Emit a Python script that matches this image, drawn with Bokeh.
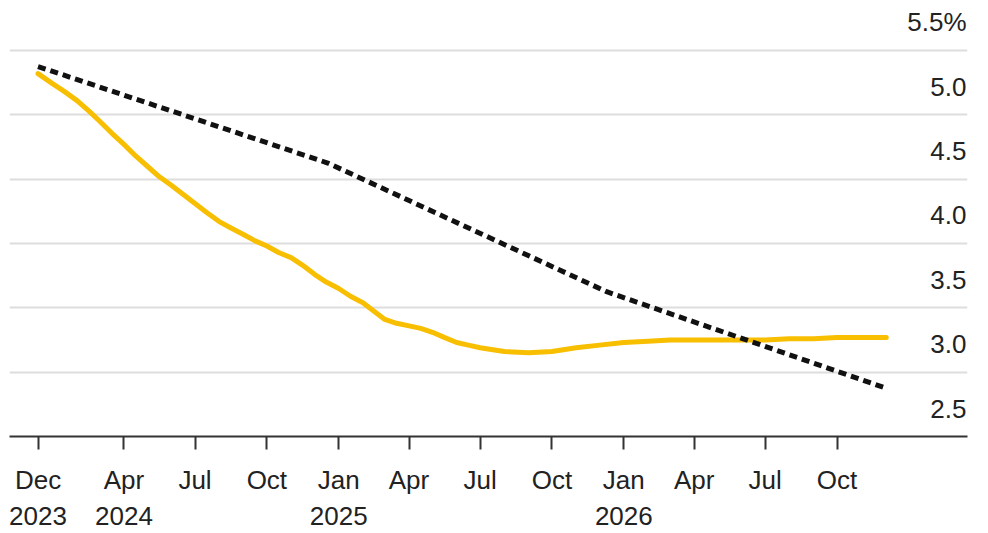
from datetime import datetime

from bokeh.core.properties import value
from bokeh.embed import file_html
from bokeh.models import ColumnDataSource, FixedTicker
from bokeh.plotting import figure
from bokeh.resources import INLINE

# Market-implied path of the policy rate (semi-monthly readings, then monthly)
market_dates = [
    datetime(2023, 12, 13),
    datetime(2024, 1, 1), datetime(2024, 1, 16), datetime(2024, 2, 1), datetime(2024, 2, 16),
    datetime(2024, 3, 1), datetime(2024, 3, 16), datetime(2024, 4, 1), datetime(2024, 4, 16),
    datetime(2024, 5, 1), datetime(2024, 5, 16), datetime(2024, 6, 1), datetime(2024, 6, 16),
    datetime(2024, 7, 1), datetime(2024, 7, 16), datetime(2024, 8, 1), datetime(2024, 8, 16),
    datetime(2024, 9, 1), datetime(2024, 9, 16), datetime(2024, 10, 1), datetime(2024, 10, 16),
    datetime(2024, 11, 1), datetime(2024, 11, 16), datetime(2024, 12, 1), datetime(2024, 12, 16),
    datetime(2025, 1, 1), datetime(2025, 1, 16), datetime(2025, 2, 1), datetime(2025, 2, 16),
    datetime(2025, 3, 1), datetime(2025, 3, 16), datetime(2025, 4, 1), datetime(2025, 4, 16),
    datetime(2025, 5, 1), datetime(2025, 5, 16), datetime(2025, 6, 1), datetime(2025, 6, 16),
    datetime(2025, 7, 1), datetime(2025, 8, 1), datetime(2025, 9, 1), datetime(2025, 10, 1),
    datetime(2025, 11, 1), datetime(2025, 12, 1), datetime(2026, 1, 1), datetime(2026, 2, 1),
    datetime(2026, 3, 1), datetime(2026, 4, 1), datetime(2026, 5, 1), datetime(2026, 6, 1),
    datetime(2026, 7, 1), datetime(2026, 8, 1), datetime(2026, 9, 1), datetime(2026, 10, 1),
    datetime(2026, 11, 1), datetime(2026, 12, 3),
]
market_rate = [
    5.32,
    5.24, 5.18, 5.11, 5.03,
    4.95, 4.86, 4.77, 4.68,
    4.60, 4.52, 4.45, 4.38,
    4.31, 4.24, 4.17, 4.12,
    4.07, 4.02, 3.98, 3.93,
    3.89, 3.83, 3.76, 3.70,
    3.65, 3.59, 3.54, 3.47,
    3.41, 3.38, 3.36, 3.34,
    3.31, 3.27, 3.23, 3.21,
    3.19, 3.16, 3.15, 3.16,
    3.19, 3.21, 3.23, 3.24,
    3.25, 3.25, 3.25, 3.25,
    3.25, 3.26, 3.26, 3.27,
    3.27, 3.27,
]

# Median projections for year-end policy rate
dots_dates = [datetime(2023, 12, 13), datetime(2024, 12, 18), datetime(2025, 12, 10), datetime(2026, 12, 3)]
dots_rate = [5.375, 4.625, 3.625, 2.875]

# Axis ticks
x_tick_dates = [
    datetime(2023, 12, 13), datetime(2024, 4, 1), datetime(2024, 7, 1), datetime(2024, 10, 1),
    datetime(2025, 1, 1), datetime(2025, 4, 1), datetime(2025, 7, 1), datetime(2025, 10, 1),
    datetime(2026, 1, 1), datetime(2026, 4, 1), datetime(2026, 7, 1), datetime(2026, 10, 1),
]
x_tick_labels = [
    "Dec\n2023", "Apr\n2024", "Jul", "Oct",
    "Jan\n2025", "Apr", "Jul", "Oct",
    "Jan\n2026", "Apr", "Jul", "Oct",
]
y_ticks = [3.0, 3.5, 4.0, 4.5, 5.0, 5.5]
y_tick_labels = ["3.0", "3.5", "4.0", "4.5", "5.0", "5.5%"]
y_base = 2.5
y_base_label = "2.5"

FONT = "Liberation Sans Narrow, Liberation Sans, Arial, sans-serif"
TEXT_COLOR = "#222222"

x_start = datetime(2023, 11, 6, 12)
x_end = datetime(2027, 3, 17)

p = figure(
    width=988, height=533,
    x_axis_type="datetime",
    x_range=(x_start, x_end), y_range=(y_base, 5.888),
    output_backend="svg", toolbar_location=None,
    min_border_left=9, min_border_right=21, min_border_top=0, min_border_bottom=96,
)
p.outline_line_color = None
p.background_fill_color = "white"
p.border_fill_color = "white"

# Horizontal grid
p.xgrid.grid_line_color = None
p.ygrid.ticker = FixedTicker(ticks=y_ticks)
p.ygrid.grid_line_color = "#dddddd"
p.ygrid.grid_line_width = 2
p.yaxis.visible = False

# Bottom date axis
tick_ms = [d.timestamp() * 1000 for d in x_tick_dates]
xa = p.xaxis[0]
xa.ticker = FixedTicker(ticks=tick_ms)
xa.major_label_overrides = {t: lab for t, lab in zip(tick_ms, x_tick_labels)}
xa.axis_line_color = "#333333"
xa.axis_line_width = 2
xa.major_tick_line_color = "#333333"
xa.major_tick_line_width = 2
xa.major_tick_in = 0
xa.major_tick_out = 13
xa.minor_tick_line_color = None
xa.major_label_text_font = FONT
xa.major_label_text_font_size = "26px"
xa.major_label_text_color = TEXT_COLOR
xa.major_label_standoff = 15

# Series
p.line(market_dates, market_rate, line_color="#F8BE00", line_width=5, line_join="round", line_cap="round")
p.line(dots_dates, dots_rate, line_color="#111111", line_width=5, line_dash="8 5")

# Right-side value labels sitting above their gridlines
lab_src = ColumnDataSource(dict(
    x=[x_end] * (len(y_ticks) + 1),
    y=y_ticks + [y_base],
    text=y_tick_labels + [y_base_label],
))
p.text(
    x="x", y="y", text="text", source=lab_src,
    x_offset=-1, y_offset=-28,
    text_align="right", text_baseline="middle",
    text_font=value(FONT), text_font_size="26px", text_color=TEXT_COLOR,
)

open("out.html", "w").write(file_html(p, INLINE))
